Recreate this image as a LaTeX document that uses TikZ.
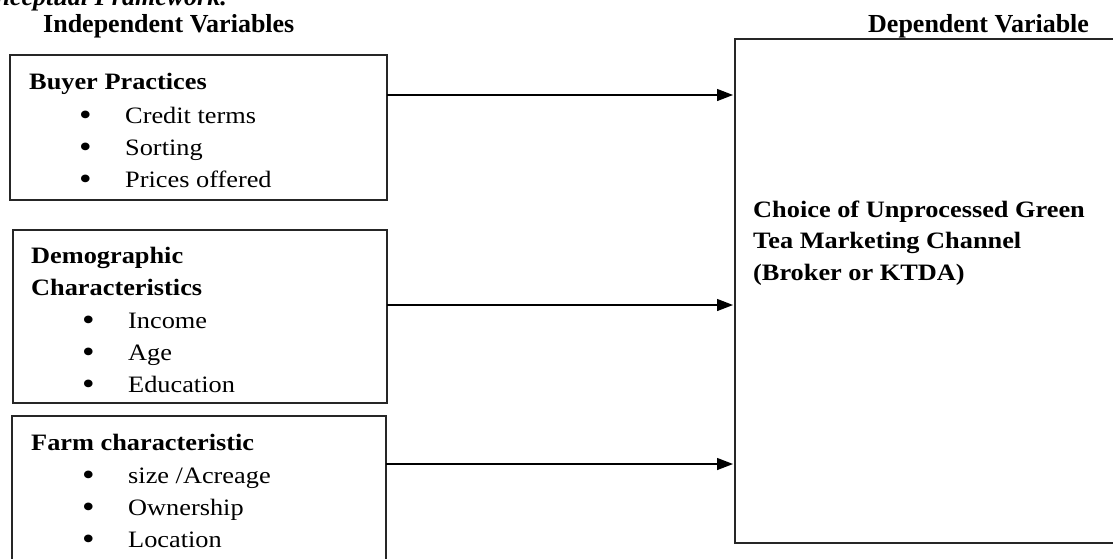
\documentclass[tikz,border=0pt]{standalone}
\usepackage{fontspec}
\setmainfont{Liberation Serif}
\newfontfamily\boxfont{Liberation Serif}[FakeStretch=1.12]
\usetikzlibrary{arrows.meta}
\newcommand\itm[1]{\makebox[46pt][l]{\raisebox{-2.5pt}{\fontsize{32}{32}\selectfont\textbullet}}#1}
\tikzset{
  frame/.style={draw=black!85, line width=1.4pt, rectangle, inner sep=0pt, outer sep=0pt, anchor=north west},
  head/.style={font=\fontsize{26}{30}\selectfont\bfseries, inner sep=0pt, anchor=base west},
  txt/.style={font=\boxfont\fontsize{23.5}{28}\selectfont, inner sep=0pt, anchor=base west},
  btxt/.style={txt, font=\boxfont\fontsize{23.5}{28}\selectfont\bfseries},
  arr/.style={line width=1.3pt, -{Triangle[length=16pt,width=12pt]}, shorten >=2pt}
}
\begin{document}
\begin{tikzpicture}[x=1pt,y=-1pt]
\clip (0,0) rectangle (1113,558);
\fill[white] (0,0) rectangle (1113,558);
% caption cut by the top edge, as in the reference
\node[font=\fontsize{26}{30}\selectfont\bfseries\itshape, inner sep=0pt, anchor=base east] (cap) at (227,5) {Conceptual Framework.};
% headings
\node[head] (hi) at (43,32) {Independent Variables};
\node[head] (hd) at (868,32) {Dependent Variable};
% boxes
\node[frame, minimum width=377pt, minimum height=145pt] (b1) at (10,55) {};
\node[frame, minimum width=374pt, minimum height=173pt] (b2) at (13,230) {};
\node[frame, minimum width=374pt, minimum height=146pt] (b3) at (12,416) {};
\node[frame, line width=1.6pt, minimum width=385pt, minimum height=504pt] (dv) at (735,39) {};
% box 1 text
\node[btxt] (t1) at (29,89) {Buyer Practices};
\node[txt] (t1a) at (79,123) {\itm{Credit terms}};
\node[txt] (t1b) at (79,155) {\itm{Sorting}};
\node[txt] (t1c) at (79,187) {\itm{Prices offered}};
% box 2 text
\node[btxt] (t2) at (31,263) {Demographic};
\node[btxt] (t2x) at (31,295) {Characteristics};
\node[txt] (t2a) at (82,328) {\itm{Income}};
\node[txt] (t2b) at (82,360) {\itm{Age}};
\node[txt] (t2c) at (82,392) {\itm{Education}};
% box 3 text
\node[btxt] (t3) at (31,450) {Farm characteristic};
\node[txt] (t3a) at (82,483) {\itm{size /Acreage}};
\node[txt] (t3b) at (82,515) {\itm{Ownership}};
\node[txt] (t3c) at (82,547) {\itm{Location}};
% dependent variable text
\node[btxt] (d1) at (753,217) {Choice of Unprocessed Green};
\node[btxt] (d2) at (753,248) {Tea Marketing Channel};
\node[btxt] (d3) at (753,280) {(Broker or KTDA)};
% arrows
\draw[arr] ([yshift=32.5pt]b1.east) -- ([yshift=32.5pt]b1.east -| dv.west);
\draw[arr] ([yshift=11.5pt]b2.east) -- ([yshift=11.5pt]b2.east -| dv.west);
\draw[arr] ([yshift=25pt]b3.east) -- ([yshift=25pt]b3.east -| dv.west);
\end{tikzpicture}
\end{document}
